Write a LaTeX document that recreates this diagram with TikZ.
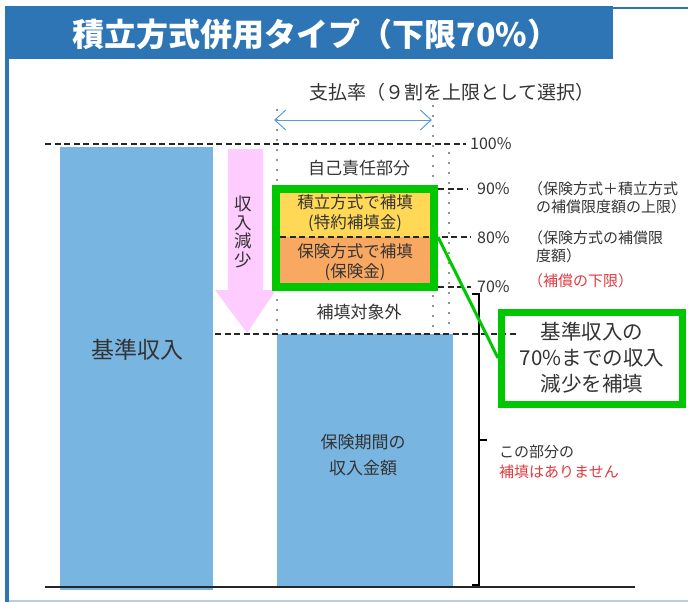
\documentclass[tikz,border=0pt]{standalone}
\usepackage{fontspec}
\setmainfont{Noto Sans CJK JP}
\usetikzlibrary{arrows.meta}
\definecolor{framblue}{HTML}{2E75B6}
\definecolor{barblue}{HTML}{78B5E1}
\definecolor{armpink}{HTML}{FFCCFF}
\definecolor{tsumiyel}{HTML}{FFD955}
\definecolor{hokenorg}{HTML}{F9A862}
\definecolor{hogreen}{HTML}{00C800}
\definecolor{notered}{HTML}{E0393E}
\definecolor{ratioblue}{HTML}{5B9BD5}
\definecolor{txtgray}{HTML}{333333}
\tikzset{
  lbl/.style={text=txtgray, align=center, inner sep=0pt},
  pct/.style={lbl, anchor=west, font=\fontsize{16}{18}\selectfont},
  side/.style={lbl, anchor=west, align=left, font=\fontsize{15}{18}\selectfont},
  lvl/.style={black!85, line width=1.7pt, dash pattern=on 6pt off 3.5pt},
  dotv/.style={black!85, line width=1.8pt, line cap=round, dash pattern=on 0pt off 10pt},
}
\begin{document}
\begin{tikzpicture}[x=1pt, y=-1pt, >=latex]
    \useasboundingbox (0,0) rectangle (688,602);
    % frame and title
    \draw[framblue, line width=2pt] (613,8)--(688,8);
    \draw[framblue!35, line width=1.5pt] (7,601)--(688,601);
    \draw[framblue, line width=4pt] (7,602)--(7,6);
    \fill[framblue] (7,6) rectangle (613,59);
    \node[text=white, font=\fontsize{32}{36}\bfseries, inner sep=0pt] (title) at (316,34) {積立方式併用タイプ（下限70\%）};
    \node[lbl, font=\fontsize{19}{22}\selectfont] (rate) at (452,92) {支払率（９割を上限として選択）};
    % dotted guides
    \draw[dotv] (277,110)--(277,333);
    \draw[dotv] (433,106)--(433,333);
    \draw[dotv] (449,153)--(449,333);
    \draw[ratioblue, line width=1pt, {Straight Barb[length=11pt, width=20pt]}-{Straight Barb[length=11pt, width=20pt]}] (274,120)--(432,120);
    % bars
    \fill[barblue] (60,147) rectangle (213,590);
    \node[lbl, font=\fontsize{23}{26}\selectfont] (kijun) at (137,350) {基準収入};
    \fill[barblue] (277,334) rectangle (453,587);
    \node[lbl, font=\fontsize{17}{26}\selectfont] (shunyu) at (363,455) {保険期間の\\収入金額};
    % income decrease arrow
    \fill[armpink] (228,149)--(263,149)--(263,290)--(276,290)--(247,333)--(215,290)--(228,290)--cycle;
    \node[lbl, font=\fontsize{17.5}{18.5}\selectfont] (gensho) at (243,232) {収\\入\\減\\少};
    % levels
    \fill[tsumiyel] (276,189) rectangle (434,237);
    \fill[hokenorg] (276,237) rectangle (434,287);
    \draw[lvl] (45,144)--(466,144);
    \draw[lvl] (438,189)--(468,189);
    \draw[lvl] (280,237)--(471,237);
    \draw[lvl] (438,287)--(471,287);
    \draw[lvl] (215,334)--(517,334);
    \draw[black!85, line width=2pt] (45,587)--(635,587);
    \node[pct] (p100) at (470,144) {100\%};
    \node[pct] (p90) at (477,189) {90\%};
    \node[pct] (p80) at (477,238) {80\%};
    \node[pct] (p70) at (477,287) {70\%};
    % layers
    \node[lbl, font=\fontsize{17}{20}\selectfont] (jiko) at (359,168) {自己責任部分};
    \node[lbl, font=\fontsize{16.5}{19.5}\selectfont] (tsumi) at (355,213) {積立方式で補填\\(特約補填金)};
    \node[lbl, font=\fontsize{16.5}{19.5}\selectfont] (hoken) at (355,262) {保険方式で補填\\(保険金)};
    \node[lbl, font=\fontsize{17}{20}\selectfont] (taisho) at (359,312) {補填対象外};
    \node[draw=hogreen, line width=8pt, minimum width=158, minimum height=98, inner sep=0pt] (cover) at (355,238) {};
    % notes on the right
    \node[side] (n90) at (528,198) {（保険方式＋積立方式\\\hspace*{8pt}の補償限度額の上限）};
    \node[side] (n80) at (528,247) {（保険方式の補償限\\\hspace*{8pt}度額）};
    \node[side, text=notered] (nlow) at (528,281) {（補償の下限）};
    \draw[black, line width=1.5pt] (472,294)--(479,294)--(479,585)--(472,585);
    \draw[black, line width=1.5pt] (479,440)--(487,440);
    \node[side, font=\fontsize{15}{20}\selectfont] (nnone) at (499,462) {この部分の\\\textcolor{notered}{補填はありません}};
    % callout
    \node[draw=hogreen, line width=7pt, minimum width=181, minimum height=92, inner sep=0pt, align=center, text=txtgray, font=\fontsize{20.5}{26}\selectfont] (hosho) at (592,358) {基準収入の\\70\%までの収入\\減少を補填};
    \draw[hogreen, line width=3pt] (cover.east |- 0,237)--(hosho.west);
\end{tikzpicture}
\end{document}
